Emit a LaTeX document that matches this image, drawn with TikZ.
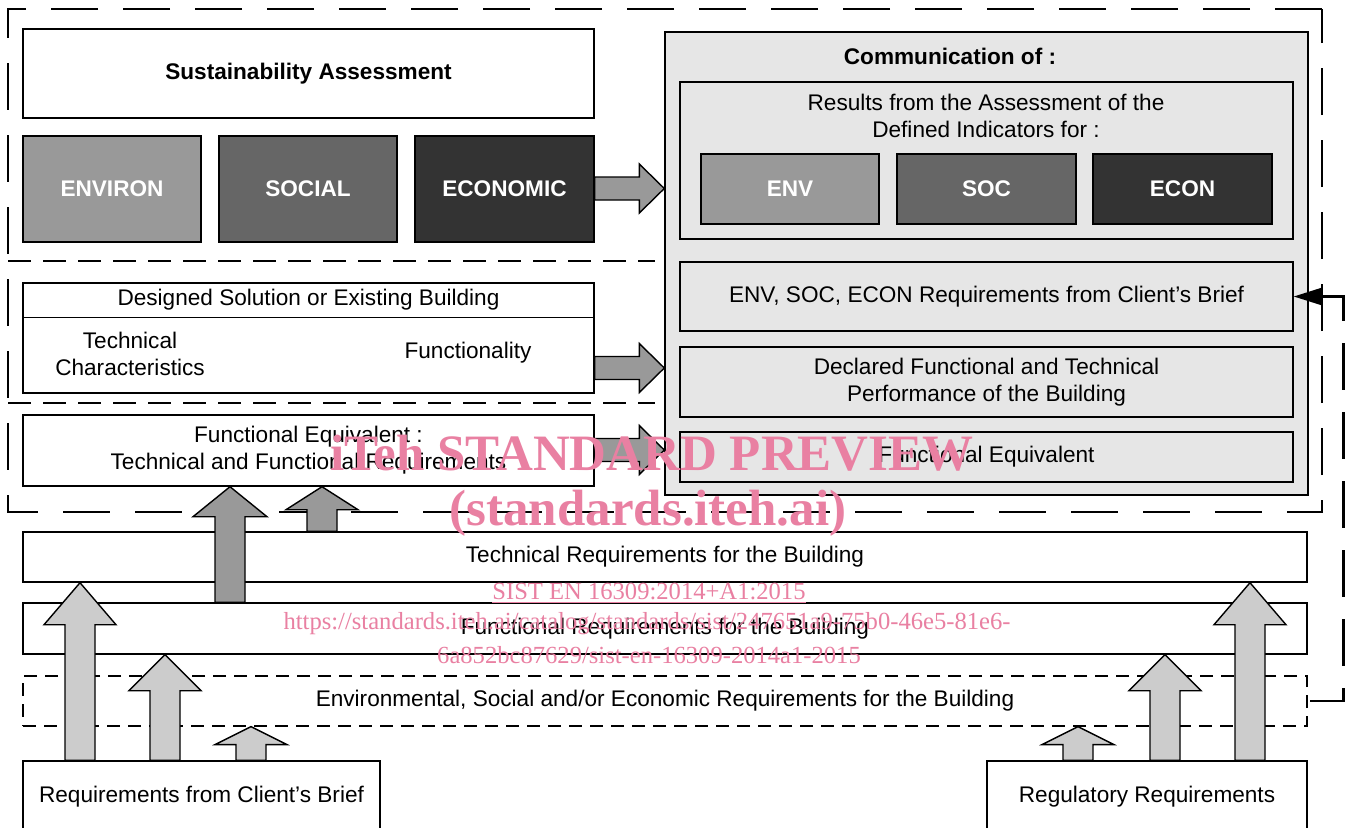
\documentclass[tikz,border=0pt]{standalone}
\usepackage{fontspec}
\setmainfont{Liberation Sans}
\newfontfamily\wmfont{Liberation Serif}
\usetikzlibrary{calc,arrows.meta}

\definecolor{envfill}{HTML}{999999}
\definecolor{socfill}{HTML}{666666}
\definecolor{econfill}{HTML}{333333}
\definecolor{commfill}{HTML}{E6E6E6}
\definecolor{arrowdark}{HTML}{999999}
\definecolor{arrowlight}{HTML}{CCCCCC}
\definecolor{wmpink}{RGB}{233,128,162}

\newcommand{\txt}{\fontsize{11.3}{13.5}\selectfont}

\tikzset{
  box/.style={draw, rectangle, line width=0.7pt, inner sep=0pt, align=center},
  area/.style 2 args={minimum width=#1*0.5pt, minimum height=#2*0.5pt},
  pillar/.style={box, text=white, font=\txt\bfseries},
  blockline/.style={draw, line width=0.7pt, line join=miter},
  bigdash/.style={line width=1.3pt, dash pattern=on 23.5pt off 12.5pt},
  middash/.style={line width=1.2pt, dash pattern=on 11.5pt off 6pt},
  feedback/.style={line width=1.2pt, dash pattern=on 23.5pt off 11pt, {Triangle[length=14pt,width=8.5pt]}-},
  wm/.style={text=wmpink, inner sep=0pt}
}

% block arrows: x, from, to, head length, head half width, fill
\newcommand{\blockup}[6]{%
  \coordinate (ax) at (#1,0);
  \draw[blockline, fill=#6]
    ($(ax |- #2.north)+(-15,0)$) -- ($(ax |- #3.south)+(-15,#4)$)
    -- ($(ax |- #3.south)+(-#5,#4)$) -- (ax |- #3.south)
    -- ($(ax |- #3.south)+(#5,#4)$) -- ($(ax |- #3.south)+(15,#4)$)
    -- ($(ax |- #2.north)+(15,0)$) -- cycle;
}
% y, from, to
\newcommand{\blockright}[3]{%
  \coordinate (ay) at (0,#1);
  \draw[blockline, fill=arrowdark]
    ($(#2.east |- ay)+(0,-11.5)$) -- ($(#3.west |- ay)+(-25,-11.5)$)
    -- ($(#3.west |- ay)+(-25,-24.5)$) -- (#3.west |- ay)
    -- ($(#3.west |- ay)+(-25,24.5)$) -- ($(#3.west |- ay)+(-25,11.5)$)
    -- ($(#2.east |- ay)+(0,11.5)$) -- cycle;
}

\begin{document}
\begin{tikzpicture}[x=0.5pt, y=-0.5pt, font=\txt]
  \useasboundingbox (0,0) rectangle (1350,827);
  \clip (0,0) rectangle (1350,827);

  % dashed frames
  \coordinate (otl) at (8,9);
  \coordinate (otr) at (1322,9);
  \coordinate (obr) at (1322,512);
  \coordinate (obl) at (8,512);
  \draw[bigdash] (otr) -- (otl) -- (obl) -- (obr) -- cycle;
  \coordinate (d1l) at (8,261);
  \coordinate (d1r) at (655,261);
  \coordinate (d2l) at (8,403);
  \coordinate (d2r) at (655,403);
  \draw[middash] (d1l) -- (d1r);
  \draw[middash] (d2l) -- (d2r);

  % sustainability assessment
  \node (sust) [box, fill=white, font=\txt\bfseries, area={571}{89}] at (308.5,73.5) {Sustainability Assessment};
  \node (environ) [pillar, fill=envfill, area={178}{106}] at (112,189) {ENVIRON};
  \node (social) [pillar, fill=socfill, area={178}{106}] at (308,189) {SOCIAL};
  \node (economic) [pillar, fill=econfill, area={179}{106}] at (504.5,189) {ECONOMIC};

  % designed solution
  \node (design) [box, fill=white, area={571}{110}] at (308.5,338) {};
  \draw[line width=0.7pt] ($(design.north west)+(0,35)$) -- ($(design.north east)+(0,35)$);
  \node (designtitle) at ($(design.north)+(0,17.5)$) {Designed Solution or Existing Building};
  \node (techchar) [align=center] at (130,354) {Technical\\Characteristics};
  \node (functy) at (468,353) {Functionality};

  % functional equivalent
  \node (fe) [box, fill=white, area={571}{71}] at (308.5,450.5) {Functional Equivalent :\\Technical and Functional Requirements};

  % communication
  \node (comm) [box, fill=commfill, area={643}{463}] at (986.5,263.5) {};
  \node (commtitle) [font=\txt\bfseries] at (950,56) {Communication of :};
  \node (results) [box, fill=commfill, area={613}{157}] at (986.5,160.5) {};
  \node (resultstext) [align=center] at (986,116) {Results from the Assessment of the\\Defined Indicators for :};
  \node (env) [pillar, fill=envfill, area={178}{70}] at (790,189) {ENV};
  \node (soc) [pillar, fill=socfill, area={179}{70}] at (986.5,189) {SOC};
  \node (econ) [pillar, fill=econfill, area={179}{70}] at (1182.5,189) {ECON};
  \node (reqs) [box, fill=commfill, area={613}{69}] at (986.5,296.5) {ENV, SOC, ECON Requirements from Client’s Brief};
  \node (decl) [box, fill=commfill, area={613}{70}] at (986.5,382) {Declared Functional and Technical\\Performance of the Building};
  \node (fe2) [box, fill=commfill, area={613}{50}] at (986.5,457) {Functional Equivalent};

  % requirement layers
  \node (tech) [box, fill=white, area={1284}{50}] at (665,557) {Technical Requirements for the Building};
  \node (funcreq) [box, fill=white, area={1284}{51}] at (665,628.5) {Functional Requirements for the Building};
  \node (envreq) [box, line width=0.6pt, dash pattern=on 6.5pt off 4pt, area={1284}{50}] at (665,701) {Environmental, Social and/or Economic Requirements for the Building};
  \node (client) [box, fill=white, area={357}{72}] at (201.5,797) {Requirements from Client’s Brief};
  \node (reg) [box, fill=white, area={320}{72}] at (1147,797) {Regulatory Requirements};

  % arrows
  \blockright{188.5}{economic}{comm}
  \blockright{368}{design}{comm}
  \blockright{450}{fe}{comm}
  \blockup{230}{funcreq}{fe}{30}{37}{arrowdark}
  \blockup{322}{tech}{fe}{23}{36}{arrowdark}
  \blockup{80}{client}{tech}{42}{36}{arrowlight}
  \blockup{165}{client}{funcreq}{36}{36}{arrowlight}
  \blockup{251}{client}{envreq}{18}{36}{arrowlight}
  \blockup{1078}{reg}{envreq}{18}{36}{arrowlight}
  \blockup{1165}{reg}{funcreq}{36}{36}{arrowlight}
  \blockup{1250}{reg}{tech}{42}{36}{arrowlight}
  \coordinate (fbcorner) at ($(envreq.east)+(36,0)$);
  \draw[feedback] (reqs.east) -| (fbcorner) -- (envreq.east);

  % watermark
  \node (wm1) [wm, font=\wmfont\bfseries\fontsize{25.5}{28}\selectfont] at (652,453) {iTeh STANDARD PREVIEW};
  \node (wm2) [wm, font=\wmfont\bfseries\fontsize{25.5}{28}\selectfont] at (648,513) {(standards.iteh.ai)};
  \node (wm3) [wm, font=\wmfont\fontsize{12.3}{14}\selectfont] at (649,593) {\underline{SIST EN 16309:2014+A1:2015}};
  \node (wm4) [wm, font=\wmfont\fontsize{12.3}{14}\selectfont] at (647,624) {https://standards.iteh.ai/catalog/standards/sist/247651a9-75b0-46e5-81e6-};
  \node (wm5) [wm, font=\wmfont\fontsize{12.3}{14}\selectfont] at (649,655) {6a852bc87629/sist-en-16309-2014a1-2015};
\end{tikzpicture}
\end{document}
